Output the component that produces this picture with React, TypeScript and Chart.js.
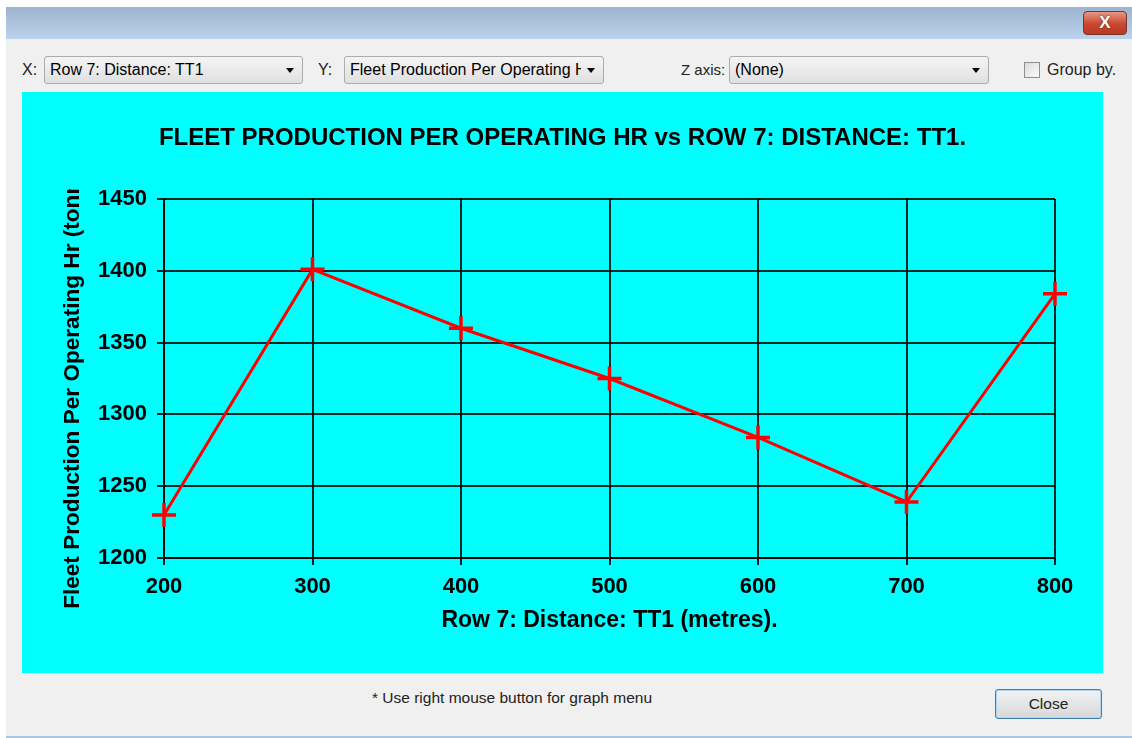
import React, { useEffect, useRef } from "react";
import { Chart, registerables } from "chart.js";

Chart.register(...registerables);

// ---------- data ----------
const chartTitle = "FLEET PRODUCTION PER OPERATING HR vs ROW 7: DISTANCE: TT1.";
const xAxisTitle = "Row 7: Distance: TT1 (metres).";
const yAxisTitle = "Fleet Production Per Operating Hr (tonnes)";
const distances = [200, 300, 400, 500, 600, 700, 800];
const production = [1230, 1401, 1360, 1325, 1284, 1239, 1384];
const xRange = [200, 800];
const xStep = 100;
const yRange = [1200, 1450];
const yStep = 50;

const xComboText = "Row 7: Distance: TT1";
const yComboText = "Fleet Production Per Operating Hr (tonnes)";
const zComboText = "(None)";
const groupByText = "Group by.";
const hintText = "* Use right mouse button for graph menu";
const closeText = "Close";

const FONT = '"Liberation Sans", Arial, Helvetica, sans-serif';
const GRID = "rgba(0,0,0,0.85)";

const yTitlePlugin = {
  id: "yTitleClipped",
  afterDraw(chart: any) {
    const { ctx, chartArea } = chart;
    ctx.save();
    ctx.beginPath();
    ctx.rect(0, 97, chartArea.left, chart.height - 97);
    ctx.clip();
    ctx.translate(51, (chartArea.top + chartArea.bottom) / 2);
    ctx.rotate(-Math.PI / 2);
    ctx.font = `bold 22.6px ${FONT}`;
    ctx.fillStyle = "#000";
    ctx.textAlign = "center";
    ctx.textBaseline = "middle";
    ctx.fillText(yAxisTitle, 0, 0);
    ctx.restore();
  },
};

function ChartPanel() {
  const ref = useRef<HTMLCanvasElement>(null);
  useEffect(() => {
    if (!ref.current) return;
    const chart = new Chart(ref.current, {
      type: "line",
      data: {
        datasets: [
          {
            label: "Fleet Production",
            data: distances.map((x, i) => ({ x, y: production[i] })),
            borderColor: "#ff0000",
            borderWidth: 3,
            pointStyle: "cross",
            pointRadius: 12,
            pointHoverRadius: 12,
            pointBorderWidth: 3.5,
            pointBorderColor: "#ff0000",
            pointBackgroundColor: "#ff0000",
            tension: 0,
            fill: false,
            clip: false,
          } as any,
        ],
      },
      options: {
        animation: false,
        responsive: false,
        maintainAspectRatio: false,
        layout: { padding: 0 },
        events: [],
        plugins: {
          legend: { display: false },
          tooltip: { enabled: false },
          title: {
            display: true,
            text: chartTitle,
            color: "#000",
            font: { family: FONT, size: 24, weight: "bold" },
            padding: { top: 31.6, bottom: 46.6 },
          },
        },
        scales: {
          x: {
            type: "linear",
            min: xRange[0],
            max: xRange[1],
            ticks: {
              stepSize: xStep,
              color: "#000",
              font: { family: FONT, size: 22, weight: "bold" },
              padding: 9,
              maxRotation: 0,
              callback: (v: any) => String(v),
            },
            grid: { color: GRID, lineWidth: 2, tickLength: 7 },
            border: { display: true, color: GRID, width: 2 },
            title: {
              display: true,
              text: xAxisTitle,
              color: "#000",
              font: { family: FONT, size: 23, weight: "bold" },
              padding: { top: 4, bottom: 39 },
            },
            afterFit: (s: any) => {
              s.height = 115;
              s.paddingRight = 48;
            },
          },
          y: {
            min: yRange[0],
            max: yRange[1],
            ticks: {
              stepSize: yStep,
              color: "#000",
              font: { family: FONT, size: 22, weight: "bold" },
              padding: 10,
              callback: (v: any) => String(v),
            },
            grid: { color: GRID, lineWidth: 2, tickLength: 7 },
            border: { display: true, color: GRID, width: 2 },
            afterFit: (s: any) => {
              s.width = 142;
            },
          },
        },
      } as any,
      plugins: [yTitlePlugin],
    });
    return () => chart.destroy();
  }, []);
  return <canvas ref={ref} width={1081} height={581} style={{ display: "block", width: 1081, height: 581 }} />;
}

function Combo({ left, width, text }: { left: number; width: number; text: string }) {
  return (
    <div
      style={{
        position: "absolute",
        left,
        top: 56,
        width,
        height: 28,
        boxSizing: "border-box",
        border: "1px solid #acacac",
        borderRadius: 3,
        background: "linear-gradient(#f4f4f4, #e0e0e0)",
      }}
    >
      <span
        style={{
          position: "absolute",
          left: 5,
          top: 0,
          right: 22,
          lineHeight: "26px",
          overflow: "hidden",
          whiteSpace: "nowrap",
          fontSize: 16,
          color: "#000",
        }}
      >
        {text}
      </span>
      <span
        style={{
          position: "absolute",
          right: 8,
          top: 11,
          width: 0,
          height: 0,
          borderLeft: "4px solid transparent",
          borderRight: "4px solid transparent",
          borderTop: "5px solid #000",
        }}
      />
    </div>
  );
}

const labelStyle: React.CSSProperties = {
  position: "absolute",
  top: 60,
  fontSize: 16,
  lineHeight: "20px",
  color: "#222",
  whiteSpace: "nowrap",
};

export default function App() {
  return (
    <div
      style={{
        position: "absolute",
        left: 0,
        top: 0,
        width: 1132,
        height: 738,
        overflow: "hidden",
        background: "#fff",
        fontFamily: FONT,
      }}
    >
      {/* title bar */}
      <div
        style={{
          position: "absolute",
          left: 6,
          top: 7,
          width: 1130,
          height: 32,
          background: "linear-gradient(#9db3cf, #bcd3ec)",
        }}
      />
      {/* close X */}
      <div
        style={{
          position: "absolute",
          left: 1083,
          top: 11,
          width: 44,
          height: 24,
          boxSizing: "border-box",
          border: "1px solid #7b3328",
          borderRadius: 4,
          background: "linear-gradient(#e49a86, #c9462f 55%, #b83a25)",
          color: "#fff",
          fontWeight: "bold",
          fontSize: 17,
          lineHeight: "21px",
          textAlign: "center",
          textShadow: "0 0 2px #5a1a10",
        }}
      >
        X
      </div>
      {/* dialog body */}
      <div
        style={{
          position: "absolute",
          left: 6,
          top: 39,
          width: 1130,
          height: 697,
          background: "#f0f0f0",
          borderBottom: "2px solid #a9c6e3",
        }}
      />
      <div style={{ ...labelStyle, left: 22 }}>X:</div>
      <Combo left={44} width={259} text={xComboText} />
      <div style={{ ...labelStyle, left: 318 }}>Y:</div>
      <Combo left={344} width={260} text={yComboText} />
      <div style={{ ...labelStyle, left: 681, fontSize: 15 }}>Z axis:</div>
      <Combo left={729} width={260} text={zComboText} />
      {/* checkbox */}
      <div
        style={{
          position: "absolute",
          left: 1024,
          top: 62,
          width: 16,
          height: 16,
          boxSizing: "border-box",
          border: "1px solid #8e8f8f",
          background: "linear-gradient(135deg, #dcdcdc, #fbfbfb)",
        }}
      />
      <div style={{ ...labelStyle, left: 1047 }}>{groupByText}</div>
      {/* cyan chart panel */}
      <div
        style={{
          position: "absolute",
          left: 22,
          top: 92,
          width: 1081,
          height: 581,
          background: "#00ffff",
        }}
      >
        <ChartPanel />
      </div>
      {/* hint */}
      <div
        style={{
          position: "absolute",
          left: 372,
          top: 688,
          fontSize: 15.5,
          lineHeight: "20px",
          color: "#222",
          whiteSpace: "nowrap",
        }}
      >
        {hintText}
      </div>
      {/* close button */}
      <div
        style={{
          position: "absolute",
          left: 995,
          top: 689,
          width: 107,
          height: 30,
          boxSizing: "border-box",
          border: "1px solid #3c7fb1",
          borderRadius: 3,
          boxShadow: "inset 0 0 0 1px #a8d8f5",
          background: "linear-gradient(#f2f2f2, #d8d8d8)",
          fontSize: 15.5,
          lineHeight: "28px",
          textAlign: "center",
          color: "#222",
        }}
      >
        {closeText}
      </div>
    </div>
  );
}
